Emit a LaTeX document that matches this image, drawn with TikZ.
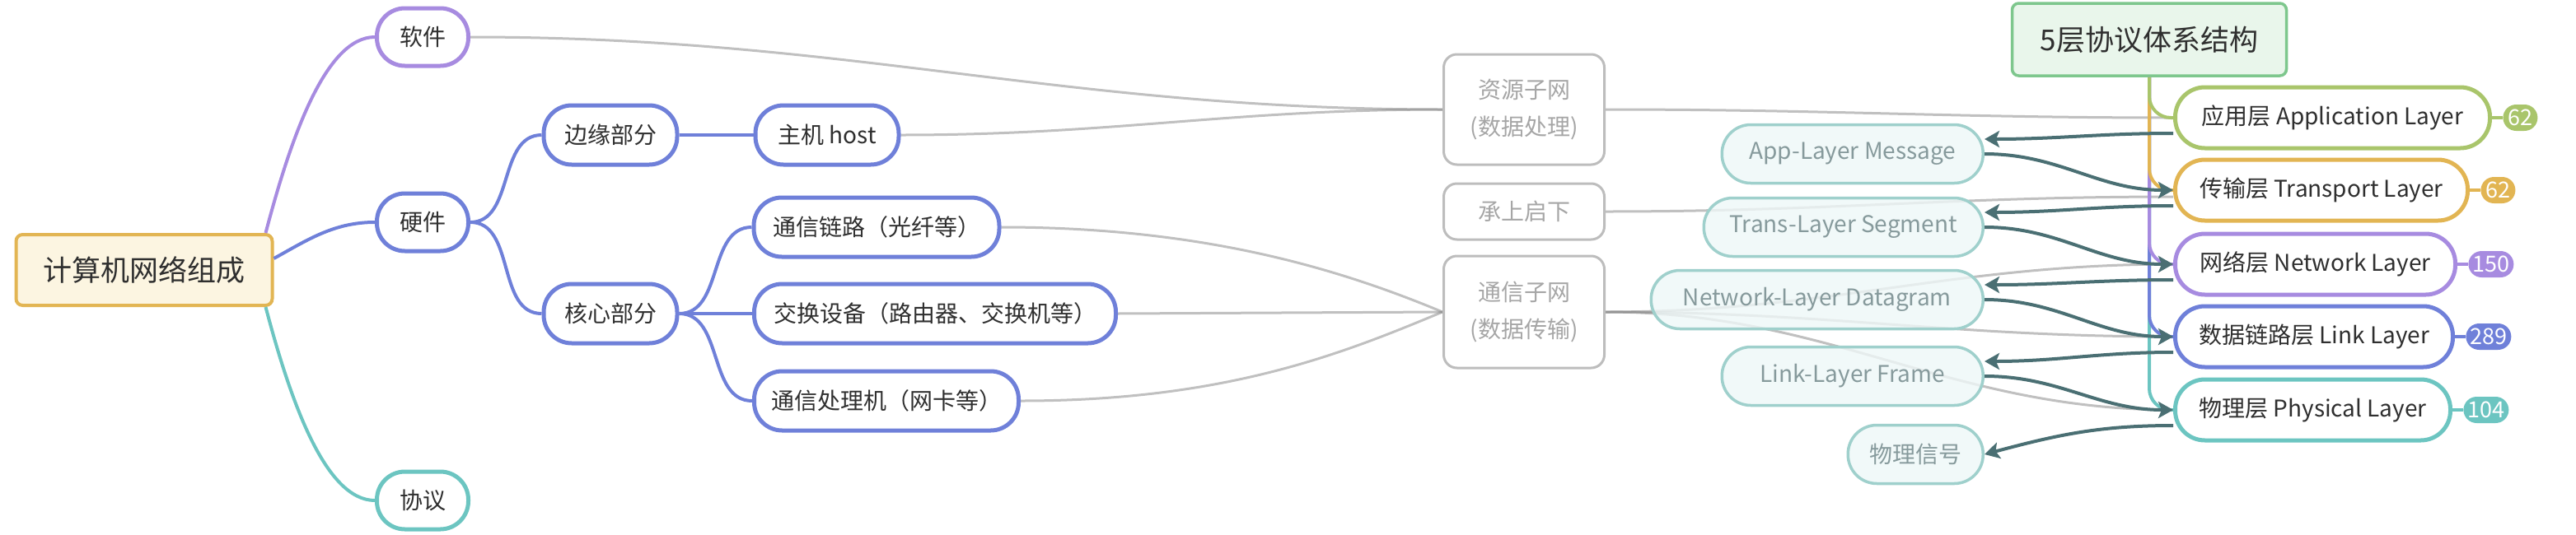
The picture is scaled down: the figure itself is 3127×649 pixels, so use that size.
\documentclass[tikz,border=0pt]{standalone}
\usepackage{fontspec}
\setmainfont{Noto Sans CJK SC}
\usetikzlibrary{arrows.meta,backgrounds}

\definecolor{ink}{HTML}{2F2F2F}
\definecolor{mmpurple}{HTML}{A78BE0}
\definecolor{mmblue}{HTML}{6F80D9}
\definecolor{mmteal}{HTML}{6CC5C1}
\definecolor{mmgold}{HTML}{E2B553}
\definecolor{mmolive}{HTML}{A9C56B}
\definecolor{mmgreen}{HTML}{7EC78D}
\definecolor{greenfill}{HTML}{E9F6EB}
\definecolor{rootfill}{HTML}{FCF5E1}
\definecolor{greybox}{HTML}{BDBDBD}
\definecolor{greytext}{HTML}{A6A6A6}
\definecolor{pdufill}{HTML}{EEF7F7}
\definecolor{pduline}{HTML}{9FD0CC}
\definecolor{pdutext}{HTML}{869A9C}
\definecolor{arrowc}{HTML}{4A6F73}

\tikzset{
  topic/.style={draw=#1, line width=2.5pt, fill=white, rounded corners=17pt,
    minimum height=35pt, inner xsep=8pt, text=ink, font=\fontsize{14}{17}\selectfont},
  layerbox/.style={topic=#1, minimum height=37pt, rounded corners=18pt},
  badge/.style={fill=#1, text=white, rounded corners=8pt, minimum height=16pt,
    minimum width=21pt, inner xsep=2.5pt, inner ysep=0pt, font=\fontsize{13.5}{14}\selectfont},
  subnet/.style={draw=greybox, line width=1.5pt, rounded corners=8pt, fill=white,
    minimum width=97.5pt, text=greytext, align=center, font=\fontsize{14}{22.5}\selectfont},
  pdu/.style={draw=pduline, line width=1.75pt, fill=pdufill, fill opacity=0.8, text opacity=1,
    rounded corners=17.5pt, minimum height=35.5pt, text=pdutext, font=\fontsize{14}{17}\selectfont},
  branch/.style={draw=#1, line width=2pt},
  relate/.style={draw=black!45, draw opacity=0.55, line width=1.5pt},
  flow/.style={draw=arrowc, line width=2pt, -{Stealth[length=9pt,width=10pt,inset=2pt]}},
}

\begin{document}
\begin{tikzpicture}[x=0.5pt,y=-0.5pt]
  \useasboundingbox (0,0) rectangle (3127,649);

  % left part of the map
  \node[draw=mmgold, line width=2pt, fill=rootfill, rounded corners=4pt, minimum width=155.5pt,
    minimum height=43pt, text=ink, font=\fontsize{17.5}{20}\selectfont] (root) at (175,328) {计算机网络组成};
  \node[topic=mmpurple, minimum width=55.5pt] (soft) at (513,45) {软件};
  \node[topic=mmblue, minimum width=55.5pt] (hard) at (513,270) {硬件};
  \node[topic=mmteal, minimum width=55.5pt] (proto) at (513,608) {协议};
  \node[topic=mmblue, minimum width=81pt, minimum height=36pt] (edgepart) at (741,164) {边缘部分};
  \node[topic=mmblue, minimum width=81pt, minimum height=36pt] (corepart) at (741,381) {核心部分};
  \node[topic=mmblue, minimum width=87pt, minimum height=36pt] (host) at (1004,164) {主机 host};
  \node[topic=mmblue, minimum width=149pt, minimum height=36pt] (chan) at (1064,276) {通信链路（光纤等）};
  \node[topic=mmblue, minimum width=219.5pt, minimum height=36pt] (swdev) at (1135,381) {交换设备（路由器、交换机等）};
  \node[topic=mmblue, minimum width=160.5pt, minimum height=36pt] (nic) at (1076,487) {通信处理机（网卡等）};

  \draw[branch=mmpurple] ([xshift=-5pt]root.north east) .. controls +(30,-114) and +(-60,0) .. (soft.west);
  \draw[branch=mmblue] ([yshift=7pt]root.east) .. controls +(40,-22) and +(-50,0) .. (hard.west);
  \draw[branch=mmteal] ([xshift=-5pt]root.south east) .. controls +(30,114) and +(-60,0) .. (proto.west);
  \draw[branch=mmblue] (hard.east) to[out=0,in=180] (edgepart.west);
  \draw[branch=mmblue] (hard.east) to[out=0,in=180] (corepart.west);
  \draw[branch=mmblue] (edgepart) -- (host);
  \draw[branch=mmblue] (corepart.east) to[out=0,in=180] (chan.west);
  \draw[branch=mmblue] (corepart) -- (swdev);
  \draw[branch=mmblue] (corepart.east) to[out=0,in=180] (nic.west);

  % subnets
  \node[subnet, minimum height=67pt] (res) at (1850,133) {资源子网\\(数据处理)};
  \node[subnet, minimum height=34pt] (mid) at (1850,257) {承上启下};
  \node[subnet, minimum height=68pt] (comm) at (1850,379) {通信子网\\(数据传输)};

  % five layers
  \node[draw=mmgreen, line width=1.75pt, fill=greenfill, rounded corners=4pt, minimum width=166.5pt,
    minimum height=44pt, text=ink, font=\fontsize{17.5}{20}\selectfont] (title) at (2609,48) {5层协议体系结构};
  \foreach \n/\y/\w/\c/\t/\k in {
      1/143/191/mmolive/{应用层 Application Layer}/62,
      2/231/177.5/mmgold/{传输层 Transport Layer}/62,
      3/321/170/mmpurple/{网络层 Network Layer}/150,
      4/409/168.5/mmblue/{数据链路层 Link Layer}/289,
      5/498/167/mmteal/{物理层 Physical Layer}/104}{
    \node[layerbox=\c, anchor=west, minimum width=\w pt] (lay\n) at (2638,\y) {\t};
    \node[badge=\c, anchor=west] (num\n) at ([xshift=6.5pt]lay\n.east) {\k};
    \draw[branch=\c] (lay\n) -- (num\n);
  }
  \foreach \n/\c in {5/mmteal,4/mmblue,3/mmpurple,2/mmgold,1/mmolive}
    \draw[branch=\c, rounded corners=13pt] (title.south) |- (lay\n.west);

  % data units
  \foreach \n/\y/\w/\t in {
      1/187/158.5/App-Layer Message,
      2/276/169.5/Trans-Layer Segment,
      3/364/201.5/Network-Layer Datagram,
      4/457/158.5/Link-Layer Frame,
      5/552/82/物理信号}
    \node[pdu, anchor=east, minimum width=\w pt] (pdu\n) at (2409,\y) {\t};

  \begin{pgfonlayer}{background}
    \draw[relate] (soft.east) to[out=0,in=180] (res.west);
    \draw[relate] (host.east) to[out=0,in=180] (res.west);
    \draw[relate] (chan.east) .. controls +(250,0) and +(-120,-50) .. (comm.west);
    \draw[relate] (swdev.east) -- (comm.west);
    \draw[relate] (nic.east) .. controls +(250,0) and +(-120,50) .. (comm.west);
    \draw[relate] (res.east) to[out=0,in=180] (lay1.west);
    \draw[relate] (mid.east) to[out=0,in=180] ([yshift=-4pt]lay2.west);
    \foreach \n in {3,4,5}
      \draw[relate] (comm.east) to[out=0,in=180] (lay\n.west);
  \end{pgfonlayer}

  \foreach \n [evaluate=\n as \m using int(\n+1)] in {1,...,4}{
    \draw[flow] ([yshift=-9.5pt]lay\n.west) to[out=180,in=0] ([yshift=9pt]pdu\n.east);
    \draw[flow] (pdu\n.east) to[out=0,in=180] (lay\m.west);
  }
  \draw[flow] ([yshift=-9.5pt]lay5.west) to[out=180,in=15] (pdu5.east);
\end{tikzpicture}
\end{document}
